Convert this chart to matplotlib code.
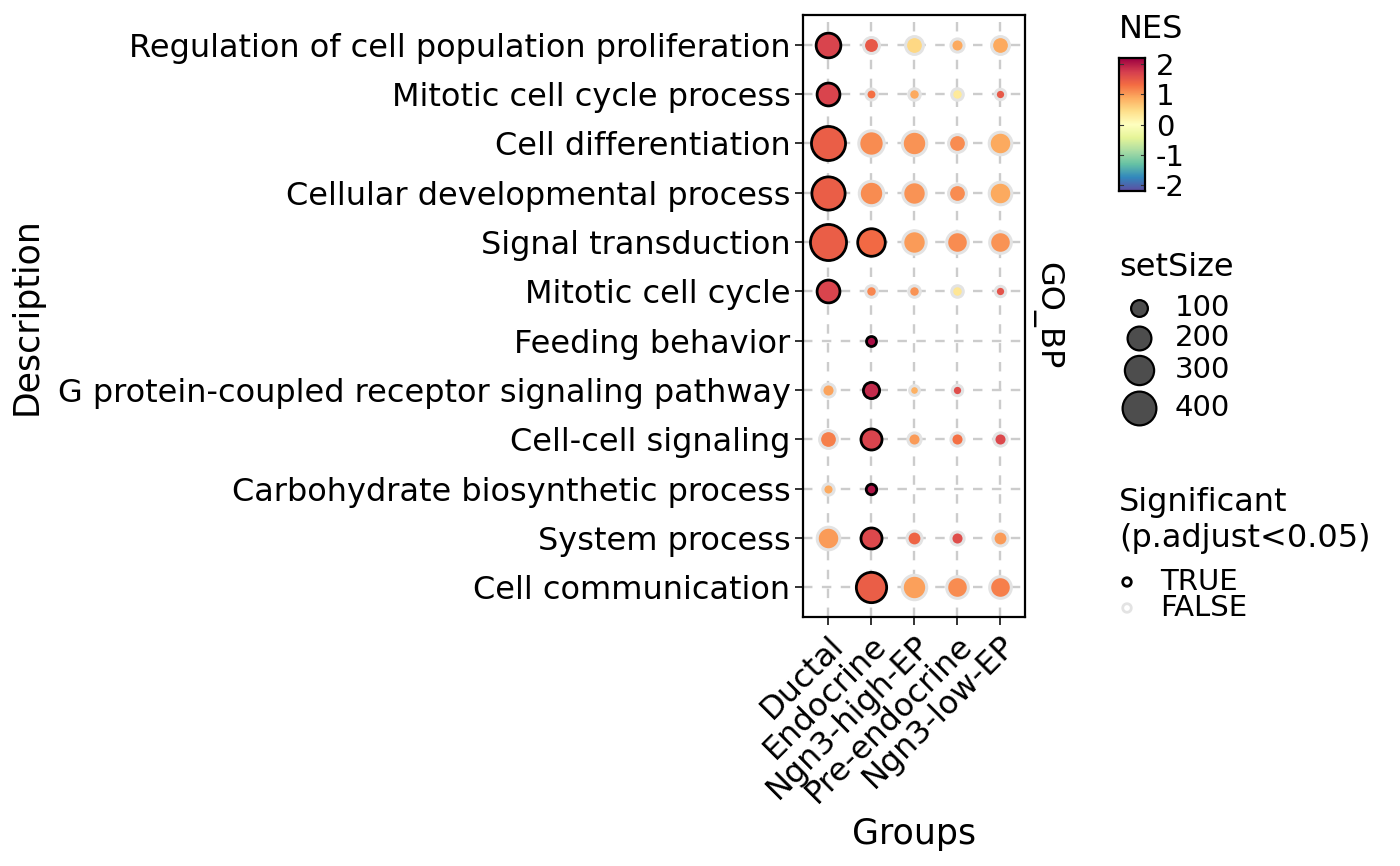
import numpy as np
import matplotlib.pyplot as plt
from matplotlib.colors import Normalize

terms = ["Regulation of cell population proliferation", "Mitotic cell cycle process",
         "Cell differentiation", "Cellular developmental process", "Signal transduction",
         "Mitotic cell cycle", "Feeding behavior", "G protein-coupled receptor signaling pathway",
         "Cell-cell signaling", "Carbohydrate biosynthetic process", "System process",
         "Cell communication"]
groups = ["Ductal", "Endocrine", "Ngn3-high-EP", "Pre-endocrine", "Ngn3-low-EP"]

nan = np.nan
# setSize per term (rows) x group (cols)
set_size = np.array([
    [225, 100, 123, 70, 123],
    [193, 50, 55, 55, 45],
    [420, 242, 225, 123, 193],
    [400, 225, 208, 123, 193],
    [470, 278, 208, 178, 178],
    [193, 55, 55, 55, 45],
    [nan, 40, nan, nan, nan],
    [70, 100, 40, 45, nan],
    [123, 165, 70, 70, 70],
    [52, 44, nan, nan, nan],
    [193, 165, 88, 70, 88],
    [nan, 335, 225, 178, 178],
])
nes = np.array([
    [1.70, 1.50, 0.50, 0.90, 0.90],
    [1.70, 1.30, 0.90, 0.30, 1.50],
    [1.45, 1.10, 1.05, 1.10, 0.90],
    [1.45, 1.10, 1.05, 1.10, 0.90],
    [1.45, 1.35, 1.00, 1.10, 1.05],
    [1.70, 1.15, 1.05, 0.35, 1.55],
    [nan, 2.10, nan, nan, nan],
    [0.95, 1.90, 0.85, 1.60, nan],
    [1.20, 1.70, 1.00, 1.30, 1.65],
    [0.90, 2.05, nan, nan, nan],
    [1.00, 1.65, 1.40, 1.60, 1.00],
    [nan, 1.45, 0.97, 1.10, 1.20],
])
significant = np.array([
    [1, 0, 0, 0, 0],
    [1, 0, 0, 0, 0],
    [1, 0, 0, 0, 0],
    [1, 0, 0, 0, 0],
    [1, 1, 0, 0, 0],
    [1, 0, 0, 0, 0],
    [0, 1, 0, 0, 0],
    [0, 1, 0, 0, 0],
    [0, 1, 0, 0, 0],
    [0, 1, 0, 0, 0],
    [0, 1, 0, 0, 0],
    [0, 1, 0, 0, 0],
], dtype=bool)
size_breaks = [100, 200, 300, 400]
nes_ticks = [2, 1, 0, -1, -2]

cmap = plt.get_cmap("Spectral_r")
norm = Normalize(-2.2, 2.2)
GREY = "#e3e3e3"
PX = 0.72  # points per pixel at dpi 100


def marker_area(size, lw):
    d = (2 + 1.7 * np.sqrt(size)) * PX - lw
    return d ** 2


fig = plt.figure(figsize=(14, 8.66), dpi=100)
ax = fig.add_axes([0.5736, 0.2875, 0.1586, 0.6952])

for i in range(len(groups)):
    ax.axvline(i, color="#cccccc", lw=1.7, dashes=(4, 4), zorder=0)
for j in range(len(terms)):
    ax.axhline(j, color="#cccccc", lw=1.7, dashes=(4, 4), zorder=0)

rows, cols = np.where(~np.isnan(set_size))
for r, c in zip(rows, cols):
    sig = significant[r, c]
    lw = 2.0 if sig else 2.2
    ax.scatter(c, r, s=marker_area(set_size[r, c], lw), color=cmap(norm(nes[r, c])),
               edgecolors="black" if sig else GREY, linewidths=lw, zorder=3 if sig else 2)

ax.set_xlim(-0.58, 4.58)
ax.set_ylim(len(terms) - 0.4, -0.6)
ax.set_xticks(range(len(groups)))
ax.set_xticklabels(groups, rotation=45, ha="right", va="top", rotation_mode="anchor", fontsize=23)
ax.set_yticks(range(len(terms)))
ax.set_yticklabels(terms, fontsize=23)
ax.tick_params(length=6, width=1.4, color="#333333", pad=3)
for sp in ax.spines.values():
    sp.set_linewidth(1.6)
ax.set_xlabel("Groups", fontsize=25, labelpad=6)
ax.set_ylabel("Description", fontsize=25, labelpad=10)
ax.text(1.03, 0.5, "GO_BP", transform=ax.transAxes, rotation=270, fontsize=23,
        ha="left", va="center")

# colorbar
cax = fig.add_axes([1119 / 1400, 1 - 191 / 866, 26 / 1400, 133 / 866])
grad = np.linspace(-2.2, 2.2, 200).reshape(-1, 1)
cax.imshow(grad, aspect="auto", cmap=cmap, norm=norm, origin="lower", extent=[0, 1, -2.2, 2.2])
cax.set_xticks([])
cax.set_yticks(nes_ticks)
cax.yaxis.tick_right()
cax.set_yticklabels([str(t) for t in nes_ticks], fontsize=21)
cax.tick_params(axis="y", length=0, pad=8)
for t in nes_ticks:
    cax.plot([0, 0.15], [t, t], color="#333333", lw=0.8)
    cax.plot([0.85, 1], [t, t], color="#333333", lw=0.8)
cax.set_xlim(0, 1)
for sp in cax.spines.values():
    sp.set_linewidth(1.6)
fig.text(1119 / 1400, 1 - 30 / 866, "NES", fontsize=23, va="center", ha="left")

# legends
lax = fig.add_axes([0, 0, 1, 1])
lax.set_xlim(0, 1400)
lax.set_ylim(866, 0)
lax.axis("off")
lax.text(1119, 268, "setSize", fontsize=23, va="center")
for k, (sz, yy) in enumerate(zip(size_breaks, [308, 338, 370, 408])):
    lax.scatter(1139, yy, s=marker_area(sz, 1.6), color="#4d4d4d", edgecolors="black", linewidths=1.6)
    lax.text(1175, yy, str(sz), fontsize=21, va="center")
lax.text(1119, 502, "Significant", fontsize=23, va="center")
lax.text(1119, 538, "(p.adjust<0.05)", fontsize=23, va="center")
for lab, yy, ec in [("TRUE", 582, "black"), ("FALSE", 608, GREY)]:
    lax.scatter(1127, yy, s=38, facecolors="none", edgecolors=ec, linewidths=2)
    lax.text(1160, yy, lab, fontsize=21, va="center")

fig.savefig("out.png", dpi=100)
